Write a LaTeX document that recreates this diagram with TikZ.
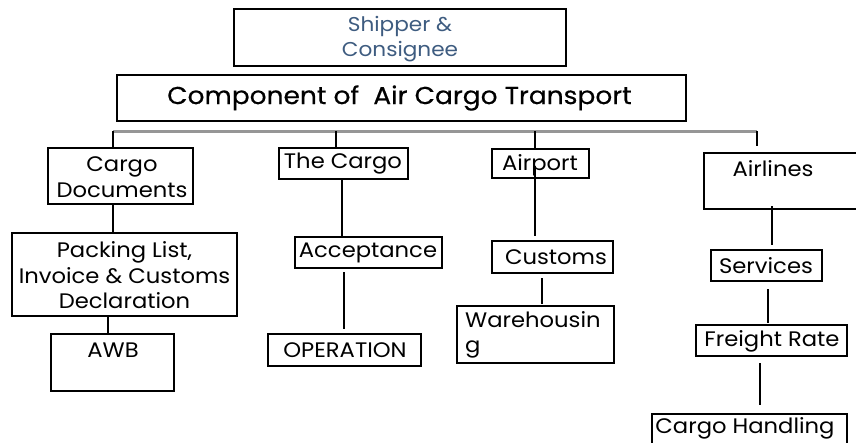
\documentclass[tikz,border=0pt]{standalone}
\usepackage{fontspec}
\setmainfont{Poppins}[FakeStretch=1.08]
\newfontfamily\titlefont{Poppins}[FakeStretch=1.08, FakeBold=0.4]
\definecolor{shipblue}{RGB}{62,92,128}
\definecolor{bargray}{RGB}{150,150,150}
\tikzset{
  box/.style={draw=black, line width=2.4pt, inner sep=0pt},
  lbl/.style={inner sep=0pt, font=\fontsize{21}{25.5}\selectfont, align=center},
  link/.style={draw=black, line width=2.4pt},
  bar/.style={draw=bargray, line width=3pt},
}
% box from its corners (x1,y1) to (x2,y2), y counted downwards
\newcommand\mkbox[5]{\node[box, minimum width={(#4-#2)*1pt}, minimum height={(#5-#3)*1pt}] (#1) at ({(#2+#4)/2},{(#3+#5)/2}) {};}
\begin{document}
\begin{tikzpicture}[x=1pt, y=-1pt]
\clip (0,0) rectangle (856,442);
\fill[white] (0,0) rectangle (856,442);

% boxes
\mkbox{shipper}{234}{9}{566}{66}
\mkbox{main}{117}{75}{686}{121}
\mkbox{docs}{48}{148}{193}{204}
\mkbox{packing}{12}{233}{237}{316}
\mkbox{awb}{51}{334}{174}{391}
\mkbox{cargo}{279}{148}{408}{179}
\mkbox{accept}{295}{237}{442}{268}
\mkbox{oper}{268}{334}{421}{366}
\mkbox{airport}{492}{149}{589}{178}
\mkbox{customs}{492}{241}{613}{273}
\mkbox{ware}{457}{306}{614}{363}
\mkbox{airlines}{704}{153}{870}{209}
\mkbox{services}{711}{250}{822}{281}
\mkbox{freight}{696}{325}{847}{356}
\mkbox{handling}{652}{414}{847}{460}

% texts
\node[lbl, text=shipblue, font=\fontsize{20}{25}\selectfont] (t-shipper) at (400,39.5) {Shipper \&\\Consignee};
\node[lbl, font=\titlefont\fontsize{24.5}{28}\selectfont] (t-main) at (399.5,98) {Component of\ \ Air Cargo Transport};
\node[lbl] (t-docs) at (122,177) {Cargo\\Documents};
\node[lbl] (t-packing) at (124.5,275.5) {Packing List,\\Invoice \& Customs\\Declaration};
\node[lbl] (t-awb) at (113,350) {AWB};
\node[lbl] (t-cargo) at (343,164) {The Cargo};
\node[lbl] (t-accept) at (368,253) {Acceptance};
\node[lbl] (t-oper) at (345,350) {OPERATION};
\node[lbl] (t-airport) at (540,165) {Airport};
\node[lbl] (t-customs) at (556,257) {Customs};
\node[lbl, align=left, anchor=west] (t-ware) at (465,335) {Warehousin\\g};
\node[lbl] (t-airlines) at (773,169) {Airlines};
\node[lbl] (t-services) at (766,266) {Services};
\node[lbl] (t-freight) at (772,341) {Freight Rate};
\node[lbl] (t-handling) at (745,428.5) {Cargo Handling};

% distribution bar under the title
\coordinate (barL) at (113,131);
\coordinate (barR) at (757,131);
\coordinate (tk1) at ([xshift=-7.5pt]docs.north);
\coordinate (tk2) at ([xshift=-7.5pt]cargo.north);
\coordinate (tk3) at ([xshift=-5.5pt]airport.north);
\coordinate (tk4) at ([xshift=-30pt]airlines.north);
\draw[bar] (barL) -- (barR);
\draw[link] (tk1 |- barL) -- (tk1);
\draw[link] (tk2 |- barL) -- (tk2);
\draw[link] (tk3 |- barL) -- (tk3);
\draw[link, shorten >=6pt] (tk4 |- barL) -- (tk4);

% connectors inside each branch
\draw[link] ([xshift=-7.5pt]docs.south) -- ([xshift=-11.5pt]packing.north);
\draw[link] ([xshift=-16.5pt]packing.south) -- ([xshift=-4.5pt]awb.north);
\draw[link] ([xshift=-1.5pt]cargo.south) -- ([xshift=-26.5pt]accept.north);
\draw[link, shorten <=3pt, shorten >=4pt] ([xshift=-24.5pt]accept.south) -- ([xshift=-0.5pt]oper.north);
\draw[link, shorten <=-13pt, shorten >=4pt] ([xshift=-5.5pt]airport.south) -- ([xshift=-17.5pt]customs.north);
\draw[link, shorten <=4pt, shorten >=1pt] ([xshift=-10.5pt]customs.south) -- ([xshift=6.5pt]ware.north);
\draw[link, shorten <=-4pt, shorten >=4pt] ([xshift=-15pt]airlines.south) -- ([xshift=5.5pt]services.north);
\draw[link, shorten <=7pt, shorten >=1pt] ([xshift=1.5pt]services.south) -- ([xshift=-3.5pt]freight.north);
\draw[link, shorten <=6pt, shorten >=8pt] ([xshift=-11.5pt]freight.south) -- ([xshift=10.5pt]handling.north);
\end{tikzpicture}
\end{document}
